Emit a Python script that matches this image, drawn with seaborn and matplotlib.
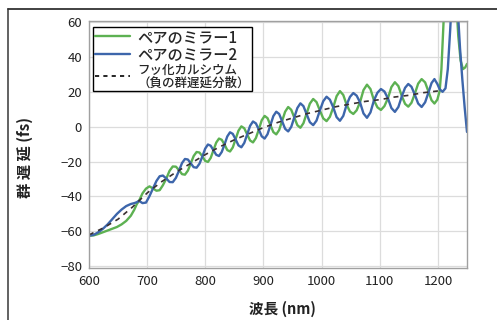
import matplotlib
matplotlib.use("Agg")
import matplotlib.pyplot as plt
from matplotlib.lines import Line2D
import seaborn as sns
import pandas as pd

# ---------------- data ----------------
wl_main = [686, 692, 698, 704, 710, 716, 721.5, 727, 733, 738.5, 744, 749.5, 755, 760, 765, 770,
           775, 780, 785, 790, 795, 799.75, 804.5, 809.25, 814, 818.75, 823.5, 828.25, 833,
           837.75, 842.5, 847.25, 852, 857, 862, 867, 872, 877, 882, 887, 892, 897, 902, 907,
           912, 917, 922, 927, 932, 937.25, 942.5, 947.75, 953, 958.25, 963.5, 968.75, 974,
           979.75, 985.5, 991.25, 997, 1002.75, 1008.5, 1014.25, 1020, 1025.75, 1031.5,
           1037.25, 1043, 1048.75, 1054.5, 1060.25, 1066, 1072, 1078, 1084, 1090, 1096, 1102,
           1108, 1114, 1120, 1126, 1132, 1138, 1143.5, 1149, 1154.5, 1160, 1166, 1172, 1178,
           1184, 1189, 1194, 1199]

gd1_main = [-42.5, -38.2, -35.5, -34.2, -35.4, -36.7, -36.4, -33.6, -29.7, -25.3, -22.8, -22.9,
            -25.0, -27.2, -27.5, -25.2, -21.0, -16.8, -14.5, -14.8, -17.0, -19.6, -20.2, -17.9,
            -13.5, -9.1, -6.8, -7.5, -10.2, -13.4, -14.2, -11.9, -7.2, -2.3, 0.2, -0.9, -4.4,
            -7.9, -9.0, -6.5, -1.6, 3.7, 6.2, 4.9, 0.9, -3.1, -4.4, -1.9, 3.2, 8.6, 11.3, 9.7,
            5.3, 0.9, -0.6, 2.0, 7.4, 13.2, 15.9, 14.1, 9.3, 4.8, 3.2, 5.7, 11.1, 17.5, 20.4,
            18.2, 12.6, 8.7, 7.3, 9.4, 14.0, 21.0, 24.1, 21.6, 15.1, 11.1, 9.6, 11.8, 16.3,
            22.7, 25.5, 23.3, 17.5, 13.1, 11.5, 13.7, 18.6, 24.7, 27.3, 25.4, 19.9, 15.2, 13.3,
            15.5]

gd2_main = [-42.5, -43.8, -43.5, -39.8, -35.4, -31.1, -28.4, -28.0, -29.7, -31.7, -31.8, -29.3,
            -25.0, -20.8, -18.5, -18.8, -21.0, -23.2, -23.5, -21.2, -17.0, -12.6, -10.2, -10.9,
            -13.5, -16.1, -16.8, -14.5, -10.2, -5.6, -3.2, -4.1, -7.2, -10.7, -11.8, -9.3, -4.4,
            0.5, 3.0, 1.9, -1.6, -5.5, -6.8, -4.3, 0.9, 6.1, 8.6, 7.3, 3.2, -1.2, -2.7, -0.1,
            5.3, 10.7, 13.4, 11.8, 7.4, 2.6, 0.9, 3.5, 9.3, 14.6, 17.2, 15.5, 11.1, 5.5, 3.4,
            6.2, 12.6, 17.1, 19.3, 17.8, 14.0, 7.6, 5.1, 8.2, 15.1, 19.5, 21.6, 20.2, 16.3,
            10.7, 8.5, 11.3, 17.5, 22.3, 24.5, 22.9, 18.6, 13.3, 11.3, 14.0, 19.9, 25.0, 27.3,
            24.5]

wl1_low = [600, 608, 616, 624, 632, 640, 648, 656, 664, 672, 678, 682]
gd1_low = [-62.5, -62.3, -61.5, -60.5, -59.5, -58.5, -57.5, -56.0, -54.0, -51.0, -47.5, -44.5]
wl2_low = [600, 608, 616, 624, 632, 640, 648, 656, 664, 672, 678, 682]
gd2_low = [-62.5, -62.0, -60.5, -58.5, -56.0, -53.0, -50.0, -47.5, -45.5, -44.3, -43.8, -43.3]

wl1_high = [1203, 1206, 1209, 1213, 1222, 1231, 1235, 1239, 1243, 1247, 1250]
gd1_high = [20.5, 33, 55, 85, 110, 75, 52, 38, 33, 34, 36]
wl2_high = [1203, 1208, 1213, 1217, 1221, 1225, 1230, 1234, 1238, 1242, 1246, 1250]
gd2_high = [21.5, 20.0, 22, 33, 55, 80, 100, 68, 45, 27, 11, -3]

wl_caf2 = [600, 625, 650, 675, 700, 725, 750, 775, 800, 825, 850, 875, 900, 925, 950, 975,
           1000, 1025, 1050, 1075, 1100, 1125, 1150, 1175, 1200]
gd_caf2 = [-62, -58, -53, -46, -38, -31.5, -26, -21, -16, -11.5, -7.5, -4, -0.5, 2.5, 5, 7.5,
           9.5, 11.5, 13, 14.5, 15.5, 17, 18, 19.5, 20.5]

labels = ["ペアのミラー1", "ペアのミラー2", "フッ化カルシウム\n（負の群遅延分散）"]
x_ticks = [600, 700, 800, 900, 1000, 1100, 1200]
y_ticks = [-80, -60, -40, -20, 0, 20, 40, 60]

# ---------------- styling ----------------
sns.set_theme(style="whitegrid")
plt.rcParams['font.family'] = ['Noto Sans CJK JP', 'DejaVu Sans']

green = "#5db152"
blue = "#3d66ab"
dash_col = "#3a3030"

df1 = pd.DataFrame({"wl": wl1_low + wl_main + wl1_high, "gd": gd1_low + gd1_main + gd1_high})
df2 = pd.DataFrame({"wl": wl2_low + wl_main + wl2_high, "gd": gd2_low + gd2_main + gd2_high})
df3 = pd.DataFrame({"wl": wl_caf2, "gd": gd_caf2})

fig = plt.figure(figsize=(4.97, 3.2), dpi=100)
ax = fig.add_axes([89 / 497, 1 - 268 / 320, (467 - 89) / 497, (268 - 21) / 320])

sns.lineplot(data=df1, x="wl", y="gd", ax=ax, color=green, lw=1.7, label=labels[0],
             estimator=None, sort=False)
sns.lineplot(data=df2, x="wl", y="gd", ax=ax, color=blue, lw=1.7, label=labels[1],
             estimator=None, sort=False)
sns.lineplot(data=df3, x="wl", y="gd", ax=ax, color=dash_col, lw=1.2, label=labels[2],
             estimator=None, sort=False, dashes=False)
ax.lines[2].set_linestyle((0, (3, 3)))

ax.set_xlim(600, 1250)
ax.set_ylim(-81, 60.6)
ax.set_xticks(x_ticks)
ax.set_yticks(y_ticks)
ax.set_xlabel("")
ax.set_ylabel("")
ax.tick_params(axis="both", labelsize=9.5, colors="#222222", length=0, pad=5)
ax.grid(True, color="#dcdcdc", lw=0.9)
for s in ax.spines.values():
    s.set_color("#a0a0a0")
    s.set_linewidth(1.0)

leg = ax.legend(loc="upper left", bbox_to_anchor=(4 / 378, 1 - 6 / 247), borderaxespad=0,
                frameon=True, fancybox=False, edgecolor="black", framealpha=1,
                fontsize=11, handlelength=2.3, handletextpad=0.5, borderpad=0.12,
                labelspacing=0.02)
leg.get_frame().set_linewidth(1.0)
leg.legend_handles[2].set_color("black")
leg.legend_handles[2].set_linestyle((0, (2.5, 2.5)))
leg.legend_handles[2].set_linewidth(1.2)
for t in leg.get_texts():
    t.set_fontweight("medium")
leg.get_texts()[2].set_fontsize(9)
leg.get_texts()[2].set_linespacing(1.0)

fig.text(25 / 497, 1 - 157 / 320, "群 遅 延 (fs)", rotation=90, ha="center", va="center",
         fontsize=11, fontweight="bold", color="#222222")
fig.text(282 / 497, 1 - 309 / 320, "波長 (nm)", ha="center", va="center",
         fontsize=10.5, fontweight="bold", color="#222222")

# outer frame (left and top edges visible)
fig.add_artist(Line2D([7.5 / 497, 7.5 / 497], [0, 1 - 9 / 320], transform=fig.transFigure,
                      color="#555555", lw=1.3))
fig.add_artist(Line2D([7.5 / 497, 1], [1 - 9 / 320, 1 - 9 / 320], transform=fig.transFigure,
                      color="#333333", lw=1.3))

fig.savefig("out.png", dpi=100)
